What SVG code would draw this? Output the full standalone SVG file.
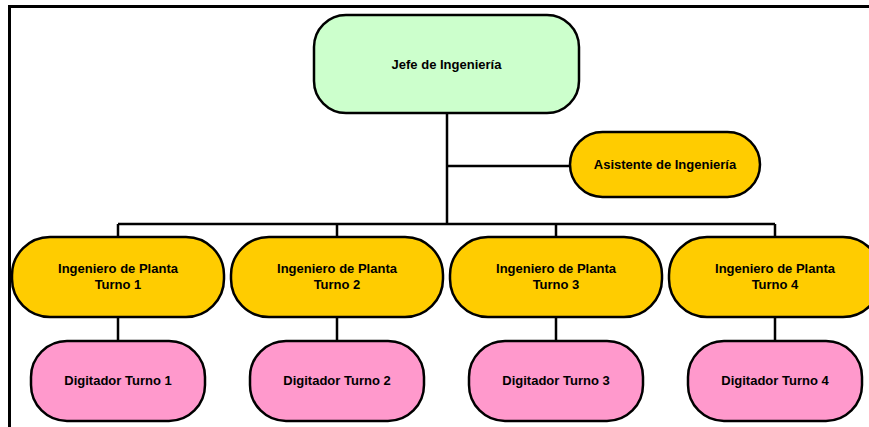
<svg xmlns="http://www.w3.org/2000/svg" width="869" height="427" viewBox="0 0 869 427">
<style>
.box{stroke:#000;stroke-width:2.5}
.g{fill:#CCFFCC}.y{fill:#FFCC00}.p{fill:#FF99CC}
text{font-family:"Liberation Sans",Arial,sans-serif;font-weight:bold;font-size:13px;text-anchor:middle;fill:#000}
.c{stroke:#000;stroke-width:2.5;fill:none}
</style>
<rect width="869" height="427" fill="#fff"/>
<path d="M9.5 427 V6.5 H869" fill="none" stroke="#000" stroke-width="3"/>
<g id="connectors">
<path class="c" d="M447 113 V224 M447 166 H570 M118 224 H775 M118 224 V237 M337 224 V237 M556 224 V237 M775 224 V237 M118 317 V341 M337 317 V341 M556 317 V341 M775 317 V341"/>
</g>
<g id="jefe"><rect class="box g" x="314" y="15" width="265" height="98" rx="32"/><text x="446.5" y="69">Jefe de Ingeniería</text></g>
<g id="asistente"><rect class="box y" x="570" y="132" width="190" height="65" rx="32.5"/><text x="665" y="169">Asistente de Ingeniería</text></g>
<g id="ing1"><rect class="box y" x="12" y="237" width="212" height="80" rx="38"/><text x="118" y="273">Ingeniero de Planta</text><text x="118" y="289">Turno 1</text></g>
<g id="ing2"><rect class="box y" x="231" y="237" width="212" height="80" rx="38"/><text x="337" y="273">Ingeniero de Planta</text><text x="337" y="289">Turno 2</text></g>
<g id="ing3"><rect class="box y" x="450" y="237" width="212" height="80" rx="38"/><text x="556" y="273">Ingeniero de Planta</text><text x="556" y="289">Turno 3</text></g>
<g id="ing4"><rect class="box y" x="669" y="237" width="212" height="80" rx="38"/><text x="775" y="273">Ingeniero de Planta</text><text x="775" y="289">Turno 4</text></g>
<g id="dig1"><rect class="box p" x="31" y="341" width="174" height="80" rx="36"/><text x="118" y="385">Digitador Turno 1</text></g>
<g id="dig2"><rect class="box p" x="250" y="341" width="174" height="80" rx="36"/><text x="337" y="385">Digitador Turno 2</text></g>
<g id="dig3"><rect class="box p" x="469" y="341" width="174" height="80" rx="36"/><text x="556" y="385">Digitador Turno 3</text></g>
<g id="dig4"><rect class="box p" x="688" y="341" width="174" height="80" rx="36"/><text x="775" y="385">Digitador Turno 4</text></g>
</svg>
